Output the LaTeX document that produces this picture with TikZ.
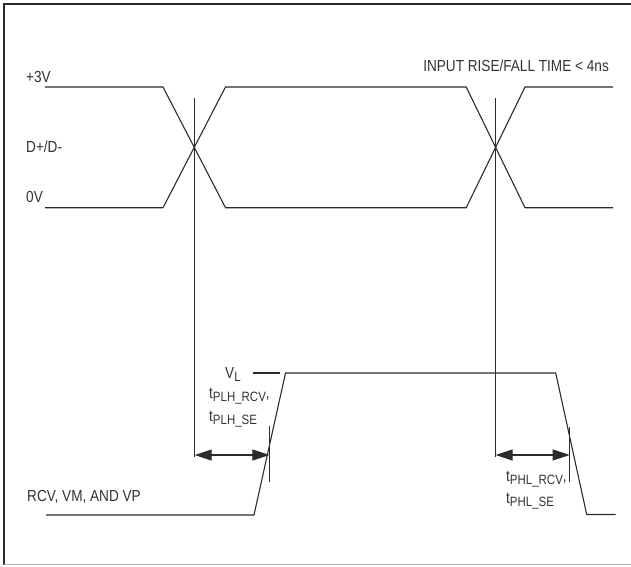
\documentclass[tikz,border=0pt]{standalone}
\usepackage{fontspec}
\setmainfont[FakeStretch=0.85]{Liberation Sans}
\usetikzlibrary{arrows.meta}
\definecolor{ink}{HTML}{2B2B2B}
\definecolor{txt}{HTML}{333333}
\newcommand{\lowtxt}[1]{\raisebox{-3.5pt}{\fontsize{13.5}{14}\selectfont #1}}
\tikzset{
  wave/.style={draw=ink, line width=1.1pt, line join=miter},
  guide/.style={draw=ink, line width=1.1pt},
  dim/.style={draw=ink, line width=1.1pt, {Triangle[length=17pt,width=11pt]}-{Triangle[length=17pt,width=11pt]}},
  lbl/.style={inner sep=0pt, anchor=base west, text=txt, font=\fontsize{16}{19}\selectfont},
}
\begin{document}
\begin{tikzpicture}[x=1pt,y=-1pt]
\useasboundingbox (0,0) rectangle (631,566);
% frame
\draw[ink, line width=2pt] (632,4) -- (4,4) -- (4,565);
\draw[gray!60, line width=1.2pt] (4,564.5) -- (632,564.5);
% coordinates of the input waveform
\coordinate (hA) at (45,87);   \coordinate (lA) at (45,207.7);
\coordinate (f1) at (163,87);  \coordinate (g1) at (163,207.7);
\coordinate (f2) at (225.5,207.7); \coordinate (g2) at (225.5,87);
\coordinate (f3) at (466.2,207.7); \coordinate (g3) at (466.2,87);
\coordinate (f4) at (525,87);  \coordinate (g4) at (525,207.7);
\coordinate (hB) at (613,87);  \coordinate (lB) at (613,207.7);
\draw[wave] (hA) -- (f1) -- (f2) -- (f3) -- (f4) -- (hB);
\draw[wave] (lA) -- (g1) -- (g2) -- (g3) -- (g4) -- (lB);
% output waveform
\coordinate (o1) at (46,515);
\coordinate (o2) at (254,515);
\coordinate (o3) at (285.5,373);
\coordinate (o4) at (555.7,373);
\coordinate (o5) at (586.7,514.5);
\coordinate (o6) at (615.7,514.5);
\draw[wave] (o1) -- (o2) -- (o3) -- (o4) -- (o5) -- (o6);
% guide lines
\coordinate (v1t) at (194.7,98);  \coordinate (v1b) at (194.7,457);
\coordinate (v2t) at (495.6,98);  \coordinate (v2b) at (495.6,457);
\coordinate (m1t) at (269.4,426); \coordinate (m1b) at (269.4,482);
\coordinate (m2t) at (569.6,427); \coordinate (m2b) at (569.6,482);
\draw[guide] (v1t) -- (v1b);
\draw[guide] (v2t) -- (v2b);
\draw[guide] (m1t) -- (m1b);
\draw[guide] (m2t) -- (m2b);
\coordinate (d1a) at (194.7,455); \coordinate (d1b) at (269.4,455);
\coordinate (d2a) at (495.6,455); \coordinate (d2b) at (569.6,455);
\draw[dim] (d1a) -- (d1b);
\draw[dim] (d2a) -- (d2b);
% VL dash
\coordinate (vla) at (253,373); \coordinate (vlb) at (280,373);
\draw[guide] (vla) -- (vlb);
% labels
\node[lbl] (p3v) at (26,82) {+3V};
\node[lbl] (pdd) at (26,152) {D+/D-};
\node[lbl] (p0v) at (26,202) {0V};
\node[lbl, anchor=base east] (pin) at (609,71) {INPUT RISE/FALL TIME < 4ns};
\node[lbl] (pvl) at (225,378) {V\lowtxt{L}};
\node[lbl] (ppr) at (209,398) {t\lowtxt{PLH\_RCV},};
\node[lbl] (pps) at (209,421) {t\lowtxt{PLH\_SE}};
\node[lbl] (prcv) at (27,501) {RCV, VM, AND VP};
\node[lbl] (phr) at (506,481) {t\lowtxt{PHL\_RCV},};
\node[lbl] (phs) at (506,503) {t\lowtxt{PHL\_SE}};
\end{tikzpicture}
\end{document}
